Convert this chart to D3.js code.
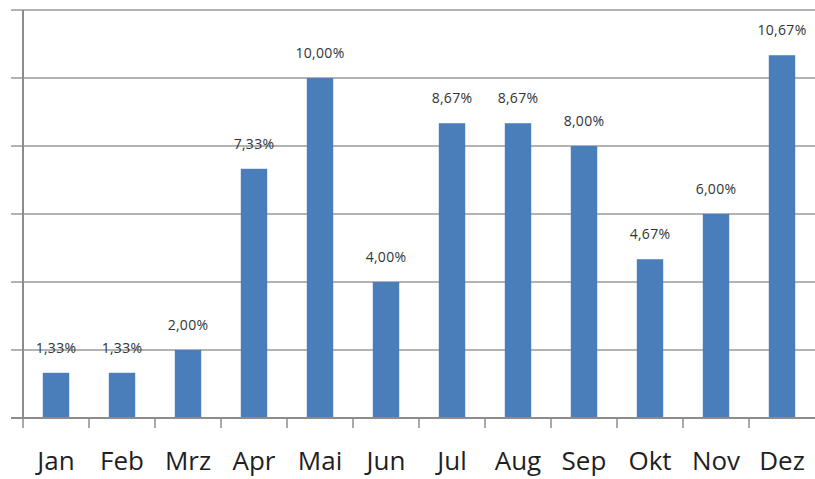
<!DOCTYPE html>
<html>
<head>
<meta charset="utf-8">
<script src="https://cdn.jsdelivr.net/npm/d3@7"></script>
<style>
  body { margin: 0; background: #fff; }
</style>
</head>
<body>
<div id="chart"></div>
<script>
const months = ['Jan', 'Feb', 'Mrz', 'Apr', 'Mai', 'Jun', 'Jul', 'Aug', 'Sep', 'Okt', 'Nov', 'Dez'];
const shares = [1.33, 1.33, 2.00, 7.33, 10.00, 4.00, 8.67, 8.67, 8.00, 4.67, 6.00, 10.67];
const yTicks = [0, 2, 4, 6, 8, 10, 12];

const width = 815, height = 479;
const plotLeft = 23, plotRight = 815, plotTop = 10, plotBottom = 418;

const svg = d3.select('#chart').append('svg')
  .attr('width', width).attr('height', height);

const x = d3.scaleBand().domain(months).range([plotLeft, plotRight])
  .paddingInner(0.6).paddingOuter(0.3);
const y = d3.scaleLinear().domain([0, 12]).range([plotBottom, plotTop]);

// gridlines
svg.append('g')
  .selectAll('line')
  .data(yTicks)
  .enter()
  .append('line')
  .attr('x1', plotLeft - 12)
  .attr('x2', plotRight)
  .attr('y1', d => y(d))
  .attr('y2', d => y(d))
  .attr('stroke', '#9a9a9a')
  .attr('stroke-width', 1.5);

// bars
svg.append('g')
  .selectAll('rect')
  .data(shares)
  .enter()
  .append('rect')
  .attr('x', (d, i) => x(months[i]))
  .attr('y', d => y(d))
  .attr('width', x.bandwidth())
  .attr('height', d => plotBottom - y(d))
  .attr('fill', '#4a7ebb');

// y axis line
svg.append('line')
  .attr('x1', plotLeft).attr('x2', plotLeft)
  .attr('y1', plotTop).attr('y2', plotBottom)
  .attr('stroke', '#8c8c8c').attr('stroke-width', 2);

// x axis baseline + ticks between categories
svg.append('line')
  .attr('x1', plotLeft - 12).attr('x2', plotRight)
  .attr('y1', plotBottom).attr('y2', plotBottom)
  .attr('stroke', '#8c8c8c').attr('stroke-width', 2);

svg.append('g')
  .selectAll('line')
  .data(months)
  .enter()
  .append('line')
  .attr('x1', d => x(d) - x.step() * 0.3)
  .attr('x2', d => x(d) - x.step() * 0.3)
  .attr('y1', plotBottom)
  .attr('y2', plotBottom + 10)
  .attr('stroke', '#8c8c8c')
  .attr('stroke-width', 1.5);

// value labels
svg.append('g')
  .selectAll('text')
  .data(shares)
  .enter()
  .append('text')
  .attr('x', (d, i) => x(months[i]) + x.bandwidth() / 2)
  .attr('y', d => y(d) - 20)
  .attr('text-anchor', 'middle')
  .attr('font-family', 'Open Sans, sans-serif')
  .attr('font-size', 14)
  .attr('letter-spacing', 0.3)
  .attr('fill', '#333')
  .text(d => d.toFixed(2).replace('.', ',') + '%');

// month labels
svg.append('g')
  .selectAll('text')
  .data(months)
  .enter()
  .append('text')
  .attr('x', d => x(d) + x.bandwidth() / 2)
  .attr('y', 470)
  .attr('text-anchor', 'middle')
  .attr('font-family', 'Open Sans, sans-serif')
  .attr('font-size', 26)
  .attr('fill', '#1f1f1f')
  .text(d => d);
</script>
</body>
</html>
